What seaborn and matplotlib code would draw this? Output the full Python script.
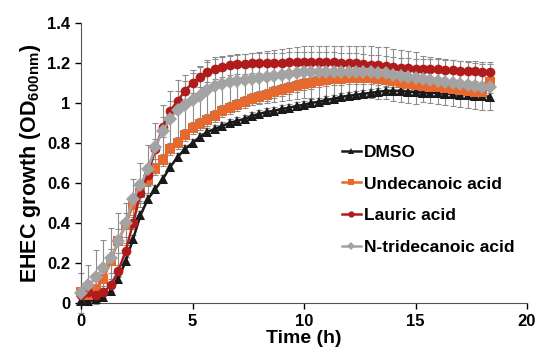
import numpy as np
import pandas as pd
import seaborn as sns
import matplotlib
matplotlib.use('Agg')
import matplotlib.pyplot as plt
from matplotlib.lines import Line2D
from matplotlib.ticker import FuncFormatter

# tempo em horas (leitura a cada 20 min)
tempo = [i / 3 for i in range(56)]

dmso = [0.01, 0.01, 0.02, 0.03, 0.06, 0.12, 0.21, 0.32, 0.44, 0.52,
        0.57, 0.62, 0.68, 0.73, 0.77, 0.80, 0.83, 0.855, 0.87, 0.885,
        0.90, 0.91, 0.92, 0.935, 0.945, 0.955, 0.96, 0.97, 0.975, 0.985,
        0.99, 1.0, 1.005, 1.015, 1.02, 1.03, 1.035, 1.04, 1.045, 1.05,
        1.055, 1.06, 1.06, 1.06, 1.055, 1.055, 1.05, 1.05, 1.05, 1.045,
        1.045, 1.04, 1.04, 1.035, 1.035, 1.03]
undecanoico = [0.058, 0.04, 0.07, 0.12, 0.21, 0.31, 0.39, 0.49, 0.55, 0.615,
               0.67, 0.715, 0.77, 0.80, 0.84, 0.875, 0.895, 0.915, 0.935, 0.96,
               0.975, 0.99, 1.005, 1.02, 1.03, 1.04, 1.055, 1.065, 1.075, 1.085,
               1.095, 1.10, 1.11, 1.115, 1.12, 1.12, 1.125, 1.125, 1.125, 1.125,
               1.12, 1.115, 1.11, 1.10, 1.095, 1.09, 1.085, 1.08, 1.08, 1.075,
               1.07, 1.065, 1.06, 1.055, 1.055, 1.105]
laurico = [0.04, 0.055, 0.04, 0.055, 0.09, 0.16, 0.26, 0.40, 0.55, 0.64,
           0.77, 0.88, 0.96, 1.01, 1.06, 1.10, 1.13, 1.155, 1.17, 1.18,
           1.19, 1.195, 1.195, 1.20, 1.20, 1.20, 1.20, 1.20, 1.205, 1.205,
           1.205, 1.205, 1.205, 1.205, 1.205, 1.20, 1.20, 1.20, 1.195, 1.19,
           1.19, 1.185, 1.18, 1.175, 1.175, 1.17, 1.17, 1.17, 1.17, 1.165,
           1.165, 1.16, 1.16, 1.16, 1.155, 1.155]
tridecanoico = [0.05, 0.09, 0.13, 0.175, 0.225, 0.31, 0.40, 0.52, 0.59, 0.67,
                0.78, 0.86, 0.92, 0.965, 0.99, 1.015, 1.035, 1.065, 1.085, 1.095,
                1.105, 1.11, 1.115, 1.12, 1.125, 1.13, 1.135, 1.14, 1.145, 1.15,
                1.155, 1.155, 1.155, 1.155, 1.155, 1.155, 1.155, 1.155, 1.155, 1.155,
                1.15, 1.147, 1.14, 1.135, 1.13, 1.125, 1.12, 1.115, 1.11, 1.105,
                1.10, 1.095, 1.09, 1.085, 1.08, 1.08]

# desvios (barras de erro)
erro_dmso = [0.02] * 56
erro_undecanoico = [0.02, 0.03, 0.04, 0.05, 0.06, 0.06, 0.06, 0.05, 0.04, 0.03] + [0.03] * 46
erro_laurico = [0.03] * 8 + [0.05] * 48
erro_tridecanoico = [0.10, 0.10, 0.135, 0.14, 0.15, 0.14, 0.10, 0.10, 0.11, 0.12,
                     0.12, 0.13, 0.14, 0.15, 0.15, 0.15, 0.15, 0.15, 0.145, 0.14] + \
                    [0.13] * 26 + [0.115] * 10

nomes = ['DMSO', 'Undecanoic acid', 'Lauric acid', 'N-tridecanoic acid']
cores = ['#1a1a1a', '#e8692e', '#b01c1c', '#a3a3a3']
marcadores = ['^', 's', 'o', 'D']
valores = [dmso, undecanoico, laurico, tridecanoico]
erros = [erro_dmso, erro_undecanoico, erro_laurico, erro_tridecanoico]

dados = pd.concat([pd.DataFrame({'tempo': tempo, 'od': v, 'grupo': n})
                   for n, v in zip(nomes, valores)], ignore_index=True)

plt.rcParams['font.family'] = ['Liberation Sans', 'DejaVu Sans']
plt.rcParams['font.weight'] = 'bold'
plt.rcParams['mathtext.fontset'] = 'custom'
plt.rcParams['mathtext.rm'] = 'Liberation Sans:bold'
plt.rcParams['mathtext.bf'] = 'Liberation Sans:bold'

fig = plt.figure(figsize=(5.38, 3.59), dpi=100)
ax = fig.add_axes([0.1506, 0.155, 0.829, 0.782])

# barras de erro cinza atrás das curvas
for v, e in zip(valores, erros):
    ax.errorbar(tempo, v, yerr=e, fmt='none', ecolor='#8c8c8c', elinewidth=0.8,
                capsize=2, capthick=0.8, zorder=1, clip_on=False)

sns.lineplot(data=dados, x='tempo', y='od', hue='grupo', style='grupo',
             hue_order=nomes, style_order=nomes, palette=cores,
             markers=marcadores, dashes=False, markersize=7,
             markeredgewidth=0, linewidth=1.8, ax=ax, zorder=3, clip_on=False,
             legend=False)

# legenda com marcadores menores
handles = [Line2D([], [], color=c, marker=m, markersize=4.5, markeredgewidth=0,
                  linewidth=1.8) for c, m in zip(cores, marcadores)]
ax.legend(handles, nomes, loc='upper left', bbox_to_anchor=(0.585, 0.565),
          frameon=False, fontsize=12.5, handlelength=1.1, handletextpad=0.15,
          labelspacing=0.95, borderpad=0, borderaxespad=0)

ax.set_xlim(0, 20)
ax.set_ylim(0, 1.4)
ax.set_xticks([0, 5, 10, 15, 20])
ax.set_yticks([0, 0.2, 0.4, 0.6, 0.8, 1.0, 1.2, 1.4])
ax.yaxis.set_major_formatter(FuncFormatter(lambda v, _: f'{v:g}'))
ax.tick_params(labelsize=12, width=1, length=4, direction='out')
for lbl in ax.get_xticklabels() + ax.get_yticklabels():
    lbl.set_fontweight('bold')
ax.spines['top'].set_visible(False)
ax.spines['right'].set_visible(False)
ax.spines['left'].set_color('#555555')
ax.spines['bottom'].set_color('#555555')

ax.set_xlabel('Time (h)', fontsize=14, fontweight='bold', labelpad=1)
ax.set_ylabel(r'EHEC growth (OD$_{\mathbf{600nm}}$)', fontsize=15.5,
              fontweight='bold', labelpad=3)

fig.savefig('out.png', dpi=100)
